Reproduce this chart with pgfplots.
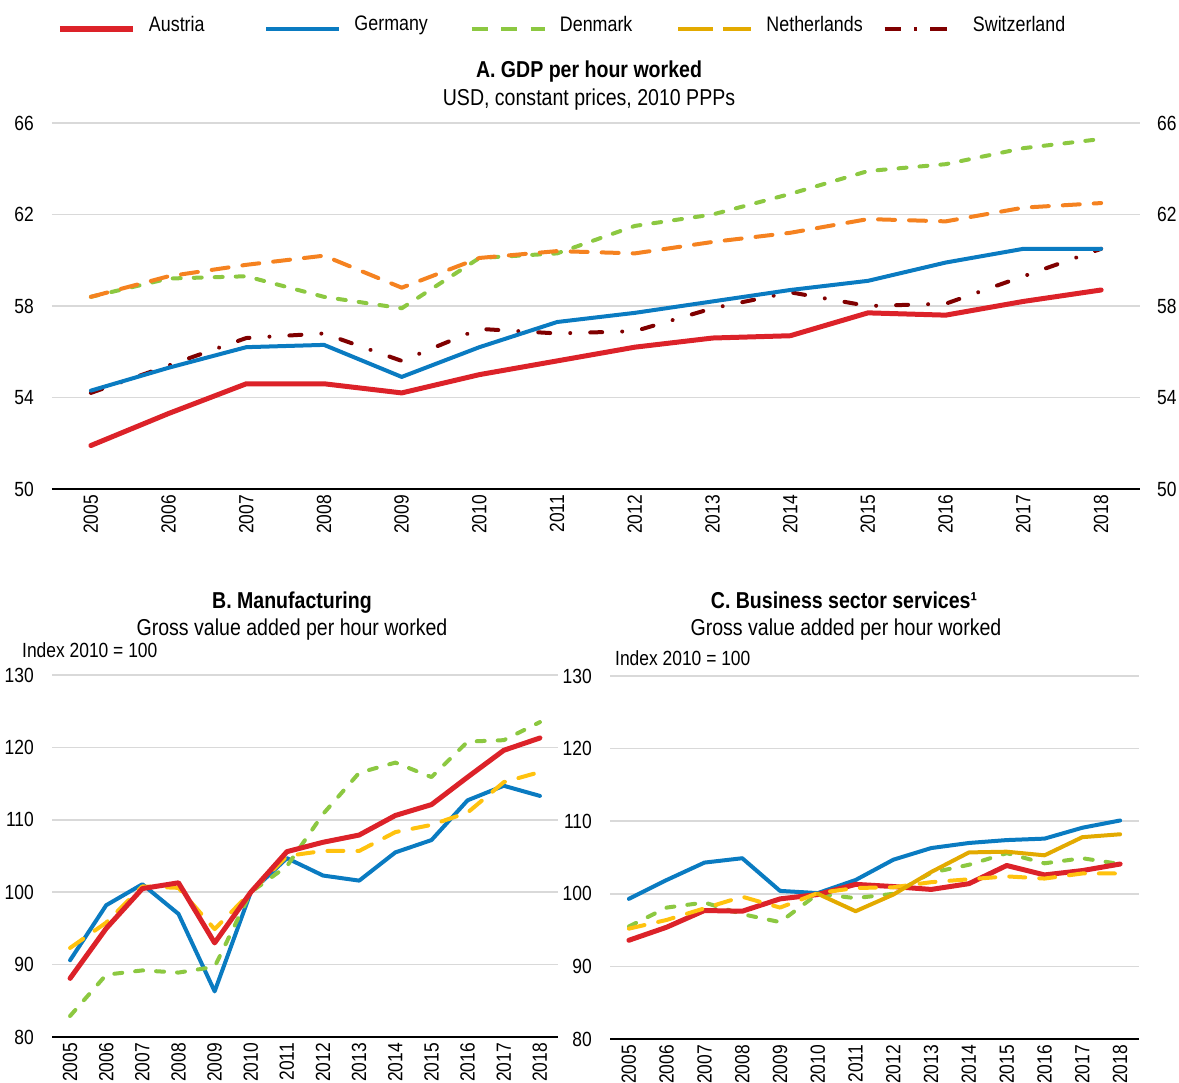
\documentclass[border=0pt]{standalone}
\usepackage{pgfplots}
\pgfplotsset{compat=1.18}
\usepackage{pgfplotstable}
\usepackage{fontspec}
\setmainfont{Liberation Sans}[FakeStretch=0.85]
\definecolor{cAUT}{HTML}{DC2229}
\definecolor{cDEU}{HTML}{0A7BC1}
\definecolor{cDNK}{HTML}{8CC841}
\definecolor{cNLD}{HTML}{E3AA00}
\definecolor{cORG}{HTML}{F58220}
\definecolor{cYEL}{HTML}{FFC20E}
\definecolor{cCHE}{HTML}{800000}
\definecolor{cGrid}{HTML}{D9D9D9}
\newcommand\tf{\fontsize{23}{27}\selectfont}
\newcommand\lf{\fontsize{20.5}{24}\selectfont}
\newcommand\gf{\fontsize{21}{25}\selectfont}
\newcommand\lgs{\rule[-5pt]{0pt}{20pt}}

\pgfplotstableread{
year AUT DEU DNK NLD CHE
2005 51.9 54.3 58.4 58.4 54.2
2006 53.3 55.3 59.2 59.3 55.4
2007 54.6 56.2 59.3 59.8 56.6
2008 54.6 56.3 58.4 60.2 56.8
2009 54.2 54.9 57.9 58.8 55.6
2010 55.0 56.2 60.1 60.1 57.0
2011 55.6 57.3 60.3 60.4 56.8
2012 56.2 57.7 61.5 60.3 56.9
2013 56.6 58.2 62.0 60.8 57.9
2014 56.7 58.7 62.9 61.2 58.6
2015 57.7 59.1 63.9 61.8 58.0
2016 57.6 59.9 64.2 61.7 58.1
2017 58.2 60.5 64.9 62.3 59.3
2018 58.7 60.5 65.3 62.5 60.5
}\tabA

\pgfplotstableread{
year AUT DEU DNK NLD
2005 88.1 90.6 82.9 92.3
2006 95.0 98.2 88.6 95.8
2007 100.5 101.1 89.2 100.8
2008 101.3 97.0 88.9 100.6
2009 93.0 86.3 89.7 94.9
2010 100.0 100.0 100.0 100.0
2011 105.6 104.7 103.6 105.0
2012 106.9 102.3 110.8 105.7
2013 107.9 101.6 116.5 105.7
2014 110.6 105.5 117.9 108.3
2015 112.1 107.2 115.9 109.3
2016 115.9 112.7 120.8 111.0
2017 119.6 114.7 121.0 115.2
2018 121.3 113.3 123.5 116.6
}\tabB

\pgfplotstableread{
year AUT DEU DNK YEL GLD
2005 93.6 99.3 95.5 95.2 nan
2006 95.4 101.9 98.1 96.4 nan
2007 97.7 104.3 98.8 98.0 nan
2008 97.6 104.9 97.2 99.6 nan
2009 99.3 100.4 96.1 98.1 nan
2010 99.9 100.1 100.0 100.1 100.0
2011 101.3 101.9 99.4 100.8 97.6
2012 101.0 104.7 100.0 100.9 99.9
2013 100.6 106.3 102.9 101.6 103.0
2014 101.4 107.0 104.0 102.0 105.7
2015 103.9 107.4 105.6 102.4 105.8
2016 102.6 107.6 104.2 102.1 105.3
2017 103.2 109.1 104.9 102.8 107.8
2018 104.1 110.1 104.1 102.8 108.2
}\tabC

\pgfplotsset{
  base/.style={
    scale only axis,
    axis x line=bottom, axis y line=left,
    axis line style={-, black, line width=1.5pt},
    y axis line style={draw=none},
    xmin=2004.5, xmax=2018.5,
    xtick={2005,...,2018},
    xticklabels={2005,2006,2007,2008,2009,2010,2011,2012,2013,2014,2015,2016,2017,2018},
    xtick style={draw=none},
    minor xtick={2004.5,2005.5,2006.5,2007.5,2008.5,2009.5,2010.5,2011.5,2012.5,2013.5,2014.5,2015.5,2016.5,2017.5,2018.5},
    minor x tick style={black, line width=1.2pt},
    minor tick length=6pt,
    major tick length=0pt,
    tick align=inside,
    ytick style={draw=none},
    ymajorgrids, major grid style={cGrid, line width=1.5pt},
    tick label style={font=\lf},
    xticklabel style={rotate=90, anchor=east, inner sep=0pt},
    xticklabel shift=6pt,
    yticklabel style={anchor=east, inner sep=0pt},
    yticklabel shift=18pt,
    /pgf/number format/assume math mode=true,
    every axis plot/.append style={line join=round, line cap=round, no markers},
    clip=false,
    unbounded coords=jump,
  },
  sAUT/.style={cAUT, line width=5pt},
  sDEU/.style={cDEU, line width=4pt},
  sDNK/.style={cDNK, line width=4pt, dash pattern=on 8pt off 13pt},
  sORG/.style={cORG, line width=4pt, dash pattern=on 17pt off 14pt},
  sYEL/.style={cYEL, line width=4pt, dash pattern=on 16pt off 14pt},
  sGLD/.style={cNLD, line width=4pt},
  sCHE/.style={cCHE, line width=4pt, dash pattern=on 12pt off 20pt on 0.01pt off 20pt},
}

\begin{document}
\begin{tikzpicture}
\path[use as bounding box] (0pt,0pt) rectangle (1179pt,-1083pt);

% Panel A
\begin{axis}[base, at={(52pt,-489pt)}, anchor=south west,
  width=1088pt, height=366pt,
  ymin=50, ymax=66, ytick={50,54,58,62,66},
  legend columns=5,
  legend style={at={(0.0046,1.270)}, anchor=west, draw=none, fill=none,
    inner sep=0pt, outer sep=0pt,
    nodes={inner sep=0pt, outer sep=0pt, font=\gf},
    /tikz/every odd column/.append style={column sep=13pt}},
  legend image code/.code={\draw[#1, line cap=butt] (0pt,-5pt) -- (73pt,-5pt);},
]
\addlegendimage{cAUT, line width=6pt}
\addlegendentry{\makebox[115pt][l]{\lgs Austria}}
\addlegendimage{cDEU, line width=4.5pt}
\addlegendentry{\makebox[115pt][l]{\lgs Germany}}
\addlegendimage{cDNK, line width=4.5pt, dash pattern=on 16pt off 13.5pt}
\addlegendentry{\makebox[116pt][l]{\lgs Denmark}}
\addlegendimage{cNLD, line width=4.5pt, dash pattern=on 35pt off 10pt}
\addlegendentry{\makebox[116pt][l]{\lgs Netherlands}}
\addlegendimage{cCHE, line width=4.5pt, dash pattern=on 16.5pt off 13pt on 3pt off 13pt}
\addlegendentry{\makebox[90pt][l]{\lgs Switzerland}}
\addplot[sDNK, forget plot] table[x=year, y=DNK] {\tabA};
\addplot[sORG, forget plot] table[x=year, y=NLD] {\tabA};
\addplot[sCHE, forget plot] table[x=year, y=CHE] {\tabA};
\addplot[sDEU, forget plot] table[x=year, y=DEU] {\tabA};
\addplot[sAUT, forget plot] table[x=year, y=AUT] {\tabA};
\end{axis}
\begin{axis}[scale only axis, at={(52pt,-489pt)}, anchor=south west,
  width=1088pt, height=366pt,
  xmin=2004.5, xmax=2018.5, ymin=50, ymax=66, ytick={50,54,58,62,66},
  axis x line=none, axis y line=right, y axis line style={draw=none},
  ytick style={draw=none}, major tick length=0pt,
  tick label style={font=\lf},
  yticklabel style={anchor=west, inner sep=0pt}, yticklabel shift=17pt,
  /pgf/number format/assume math mode=true]
\end{axis}
\node[font=\tf\bfseries, anchor=base] at (589pt,-78pt) {A. GDP per hour worked};
\node[font=\tf, anchor=base] at (589pt,-106pt) {USD, constant prices, 2010 PPPs};

% Panel B
\begin{axis}[base, at={(52pt,-1037pt)}, anchor=south west,
  width=506pt, height=362pt,
  ymin=80, ymax=130, ytick={80,90,...,130}]
\addplot[sDEU] table[x=year, y=DEU] {\tabB};
\addplot[sDNK] table[x=year, y=DNK] {\tabB};
\addplot[sYEL] table[x=year, y=NLD] {\tabB};
\addplot[sAUT] table[x=year, y=AUT] {\tabB};
\end{axis}
\node[font=\tf\bfseries, anchor=base] at (292pt,-608pt) {B. Manufacturing};
\node[font=\tf, anchor=base] at (292pt,-635pt) {Gross value added per hour worked};
\node[font=\lf, anchor=base west, inner sep=0pt] at (22pt,-657pt) {Index 2010 = 100};

% Panel C
\begin{axis}[base, at={(610pt,-1039pt)}, anchor=south west,
  width=529pt, height=363pt,
  ymin=80, ymax=130, ytick={80,90,...,130}]
\addplot[sDEU] table[x=year, y=DEU] {\tabC};
\addplot[sDNK] table[x=year, y=DNK] {\tabC};
\addplot[sAUT] table[x=year, y=AUT] {\tabC};
\addplot[sYEL] table[x=year, y=YEL] {\tabC};
\addplot[sGLD] table[x=year, y=GLD] {\tabC};
\end{axis}
\node[font=\tf\bfseries, anchor=base] at (844pt,-608pt) {C. Business sector services¹};
\node[font=\tf, anchor=base] at (846pt,-635pt) {Gross value added per hour worked};
\node[font=\lf, anchor=base west, inner sep=0pt] at (615pt,-665pt) {Index 2010 = 100};
\end{tikzpicture}
\end{document}
